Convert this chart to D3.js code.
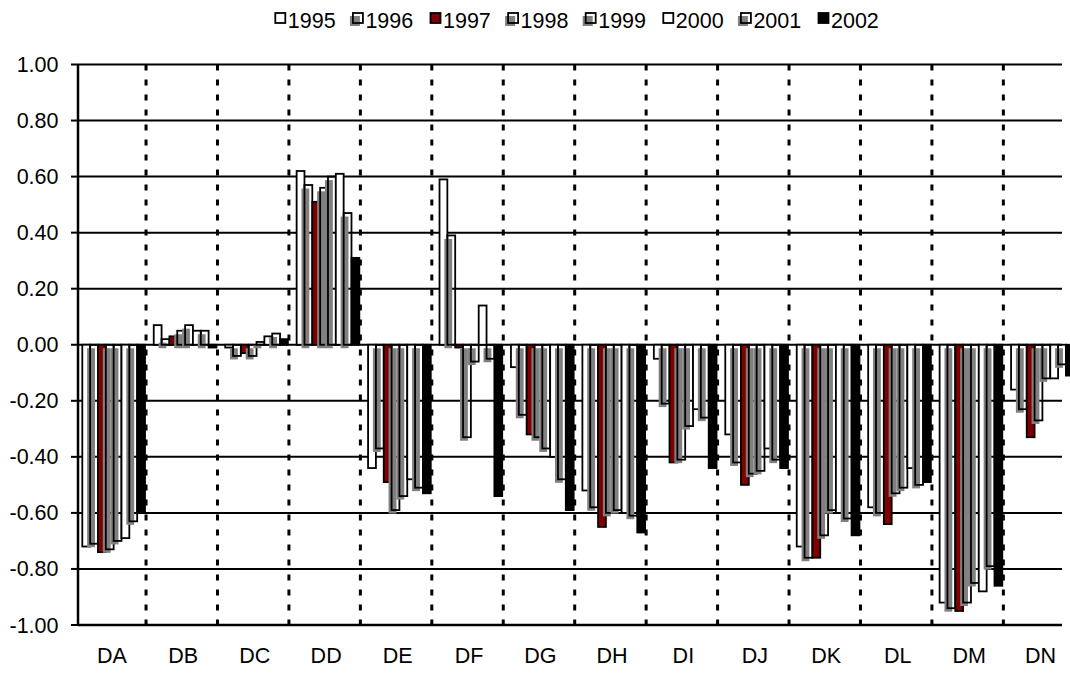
<!DOCTYPE html>
<html><head><meta charset="utf-8">
<script src="https://cdn.jsdelivr.net/npm/d3@7/dist/d3.min.js"></script>
<style>
html,body{margin:0;padding:0;background:#fff;}
svg{display:block;font-family:"Liberation Sans",Arial,sans-serif;}
</style></head>
<body>
<svg id="chart" width="1070" height="675"></svg>
<script>
const categories = ["DA","DB","DC","DD","DE","DF","DG","DH","DI","DJ","DK","DL","DM","DN"];
const years = ["1995","1996","1997","1998","1999","2000","2001","2002"];
const v1995 = [-0.72, 0.07,-0.01, 0.62,-0.44, 0.59,-0.08,-0.52,-0.05,-0.32,-0.72,-0.58,-0.92,-0.16];
const v1996 = [-0.71, 0.02,-0.04, 0.57,-0.37, 0.39,-0.25,-0.58,-0.21,-0.42,-0.76,-0.60,-0.94,-0.23];
const v1997 = [-0.74, 0.03,-0.03, 0.51,-0.49,-0.01,-0.32,-0.65,-0.42,-0.50,-0.76,-0.64,-0.95,-0.33];
const v1998 = [-0.73, 0.05,-0.04, 0.56,-0.59,-0.33,-0.33,-0.60,-0.41,-0.46,-0.68,-0.53,-0.92,-0.27];
const v1999 = [-0.70, 0.07, 0.01, 0.60,-0.54,-0.06,-0.37,-0.59,-0.29,-0.45,-0.59,-0.51,-0.85,-0.12];
const v2000 = [-0.69, 0.05, 0.03, 0.61,-0.48, 0.14,-0.40,-0.60,-0.23,-0.37,-0.60,-0.44,-0.88,-0.12];
const v2001 = [-0.63, 0.05, 0.04, 0.47,-0.51,-0.05,-0.48,-0.61,-0.26,-0.41,-0.62,-0.50,-0.79,-0.07];
const v2002 = [-0.60,-0.01, 0.02, 0.31,-0.53,-0.54,-0.59,-0.67,-0.44,-0.44,-0.68,-0.49,-0.86,-0.11];
const yTicks = [1.0,0.8,0.6,0.4,0.2,0.0,-0.2,-0.4,-0.6,-0.8,-1.0];
const yTickLabels = ["1.00","0.80","0.60","0.40","0.20","0.00","-0.20","-0.40","-0.60","-0.80","-1.00"];

const seriesValues = [v1995,v1996,v1997,v1998,v1999,v2000,v2001,v2002];
// styles per series
const fills   = ["#ffffff","none","#800000","none","none","#ffffff","none","#000000"];
const shadows = [false,true,false,true,true,false,true,false];

const svg = d3.select("#chart");
const axisX = 78, plotRight = 1062;
const y = d3.scaleLinear().domain([-1,1]).range([625,64.5]);
const x0 = d3.scaleBand().domain(categories).range([74.6,1074.8]);
const x1 = d3.scaleBand().domain(years).range([7.7,70.4]);

// gridlines
svg.append("g").selectAll("line").data(yTicks).join("line")
  .attr("x1",axisX).attr("x2",plotRight)
  .attr("y1",d=>y(d)).attr("y2",d=>y(d))
  .attr("stroke","#000").attr("stroke-width",d=>d===-1?2.5:2);

// dashed separators
svg.append("g").selectAll("line").data(categories.slice(1)).join("line")
  .attr("x1",d=>x0(d)).attr("x2",d=>x0(d))
  .attr("y1",y(1)).attr("y2",y(-1)+3)
  .attr("stroke","#000").attr("stroke-width",3)
  .attr("stroke-dasharray","6,9");

// bars
const barG = svg.append("g");
years.forEach((yr,si)=>{
  const vals = seriesValues[si];
  const g = barG.append("g");
  const data = categories.map((c,i)=>({c, v:vals[i]}));
  if (shadows[si]) {
    g.selectAll("rect.sh").data(data).join("rect").attr("class","sh")
      .attr("x",d=>x0(d.c)+x1(yr)-3)
      .attr("y",d=>Math.min(y(d.v),y(0))+3.5)
      .attr("width",x1.bandwidth())
      .attr("height",d=>Math.abs(y(d.v)-y(0)))
      .attr("fill","#808080");
  }
  g.selectAll("rect.b").data(data).join("rect").attr("class","b")
    .attr("x",d=>x0(d.c)+x1(yr))
    .attr("y",d=>Math.min(y(d.v),y(0)))
    .attr("width",x1.bandwidth())
    .attr("height",d=>Math.abs(y(d.v)-y(0)))
    .attr("fill",fills[si])
    .attr("stroke","#000").attr("stroke-width",1.8);
});

// y axis
svg.append("line").attr("x1",axisX).attr("x2",axisX).attr("y1",y(1)).attr("y2",y(-1)+1)
  .attr("stroke","#000").attr("stroke-width",2.5);
svg.append("g").selectAll("line").data(yTicks).join("line")
  .attr("x1",axisX-7).attr("x2",axisX).attr("y1",d=>y(d)).attr("y2",d=>y(d))
  .attr("stroke","#000").attr("stroke-width",2);
svg.append("g").selectAll("text").data(yTicks).join("text")
  .attr("x",58.5).attr("y",d=>y(d)).attr("dy","0.35em")
  .attr("text-anchor","end").attr("font-size",21.5).attr("fill","#000")
  .text((d,i)=>yTickLabels[i]);

// x labels
svg.append("g").selectAll("text").data(categories).join("text")
  .attr("x",d=>x0(d)+x0.bandwidth()/2+1.5).attr("y",663)
  .attr("text-anchor","middle").attr("font-size",21.5).attr("fill","#000")
  .text(d=>d);

// legend
const legStart = 274.8, legStep = 77.6;
const leg = svg.append("g");
years.forEach((yr,si)=>{
  const lx = legStart + si*legStep;
  const g = leg.append("g").attr("transform",`translate(${lx},13)`);
  if (shadows[si]) g.append("rect").attr("x",-2.5).attr("y",3).attr("width",10).attr("height",10).attr("fill","#808080");
  g.append("rect").attr("x",0.5).attr("y",0).attr("width",10).attr("height",10)
    .attr("fill",fills[si]).attr("stroke","#000").attr("stroke-width",1.8);
  g.append("text").attr("x",13).attr("y",15.3).attr("font-size",21.5).attr("fill","#000").text(yr);
});
</script>
</body></html>
